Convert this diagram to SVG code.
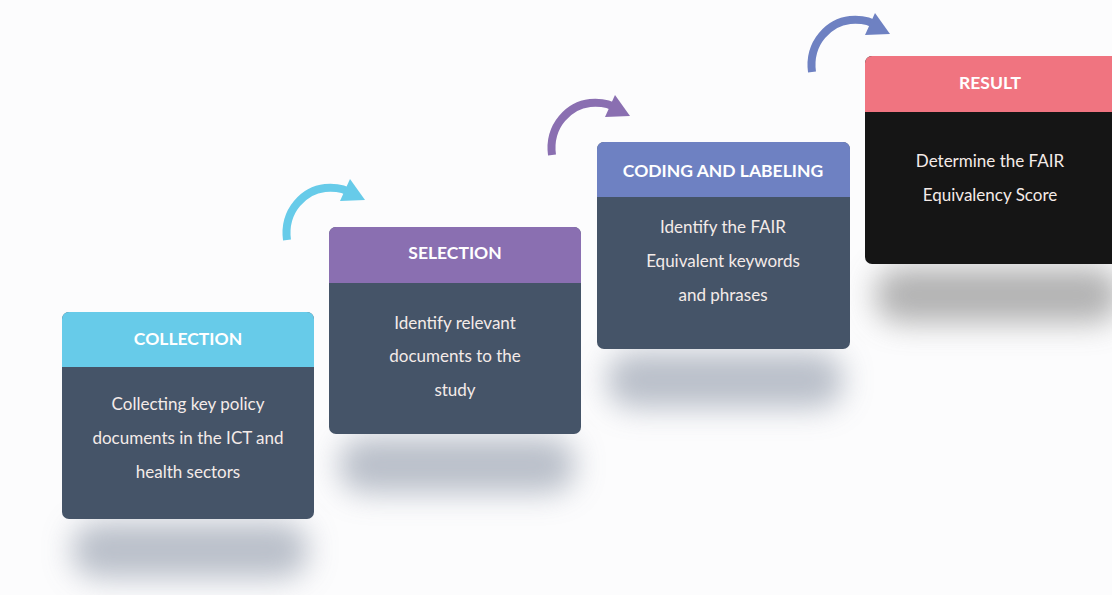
<svg xmlns="http://www.w3.org/2000/svg" width="1112" height="595" viewBox="0 0 1112 595">
<defs>
<filter id="blur" x="-40%" y="-150%" width="180%" height="400%"><feGaussianBlur stdDeviation="15"/></filter>
<clipPath id="c1"><rect x="62" y="312" width="252" height="207" rx="7"/></clipPath>
<clipPath id="c2"><rect x="329" y="227" width="252" height="207" rx="7"/></clipPath>
<clipPath id="c3"><rect x="597" y="142" width="253" height="207" rx="7"/></clipPath>
<clipPath id="c4"><rect x="865" y="56" width="260" height="208" rx="7"/></clipPath>
</defs>
<style>
.hd{font-family:Lato,"Open Sans",sans-serif;font-weight:bold;font-size:17.5px;fill:#ffffff;text-anchor:middle}
.bd{font-family:Lato,"Open Sans",sans-serif;font-size:17px;fill:#f4ebe8;text-anchor:middle}
.body{fill:#455468}
.arc{fill:none;stroke-width:8}
</style>
<rect width="1112" height="595" fill="#fcfcfd"/>
<g id="shadows">
<rect x="72" y="522" width="236" height="56" rx="25" fill="#a3aab8" opacity="0.75" filter="url(#blur)"/>
<rect x="339" y="437" width="236" height="56" rx="25" fill="#a3aab8" opacity="0.75" filter="url(#blur)"/>
<rect x="607" y="352" width="236" height="56" rx="25" fill="#a3aab8" opacity="0.75" filter="url(#blur)"/>
<rect x="875" y="267" width="245" height="56" rx="25" fill="#9a9a9a" opacity="0.75" filter="url(#blur)"/>
</g>
<g id="connectors">
<path class="arc" stroke="#67cbe9" d="M287,240 C283,210 305,190 325,188 C338,187 347,190 352,194"/>
<polygon fill="#67cbe9" points="350,179 365,200 340,201"/>
<path class="arc" stroke="#8a6fb1" d="M552,155 C548,125 570,105 590,103 C603,102 612,105 617,109"/>
<polygon fill="#8a6fb1" points="615,95 630,116 605,117"/>
<path class="arc" stroke="#6e81c2" d="M812,72 C808,42 830,22 850,20 C863,19 872,22 877,26"/>
<polygon fill="#6e81c2" points="875,13 890,34 865,35"/>
</g>
<g id="collection">
<g clip-path="url(#c1)">
<rect x="62" y="312" width="252" height="207" class="body"/>
<rect x="62" y="312" width="252" height="55" fill="#67cbe9"/>
</g>
<text class="hd" x="188" y="345">COLLECTION</text>
<text class="bd" x="188" y="410">Collecting key policy</text>
<text class="bd" x="188" y="444">documents in the ICT and</text>
<text class="bd" x="188" y="478">health sectors</text>
</g>
<g id="selection">
<g clip-path="url(#c2)">
<rect x="329" y="227" width="252" height="207" class="body"/>
<rect x="329" y="227" width="252" height="56" fill="#8a6fb1"/>
</g>
<text class="hd" x="455" y="259">SELECTION</text>
<text class="bd" x="455" y="329">Identify relevant</text>
<text class="bd" x="455" y="362">documents to the</text>
<text class="bd" x="455" y="396">study</text>
</g>
<g id="coding">
<g clip-path="url(#c3)">
<rect x="597" y="142" width="253" height="207" class="body"/>
<rect x="597" y="142" width="253" height="55" fill="#6e81c2"/>
</g>
<text class="hd" x="723" y="177">CODING AND LABELING</text>
<text class="bd" x="723" y="233">Identify the FAIR</text>
<text class="bd" x="723" y="267">Equivalent keywords</text>
<text class="bd" x="723" y="301">and phrases</text>
</g>
<g id="result">
<g clip-path="url(#c4)">
<rect x="865" y="56" width="260" height="208" fill="#151515"/>
<rect x="865" y="56" width="260" height="56" fill="#f07480"/>
</g>
<text class="hd" x="990" y="89">RESULT</text>
<text class="bd" x="990" y="167">Determine the FAIR</text>
<text class="bd" x="990" y="201">Equivalency Score</text>
</g>
</svg>
